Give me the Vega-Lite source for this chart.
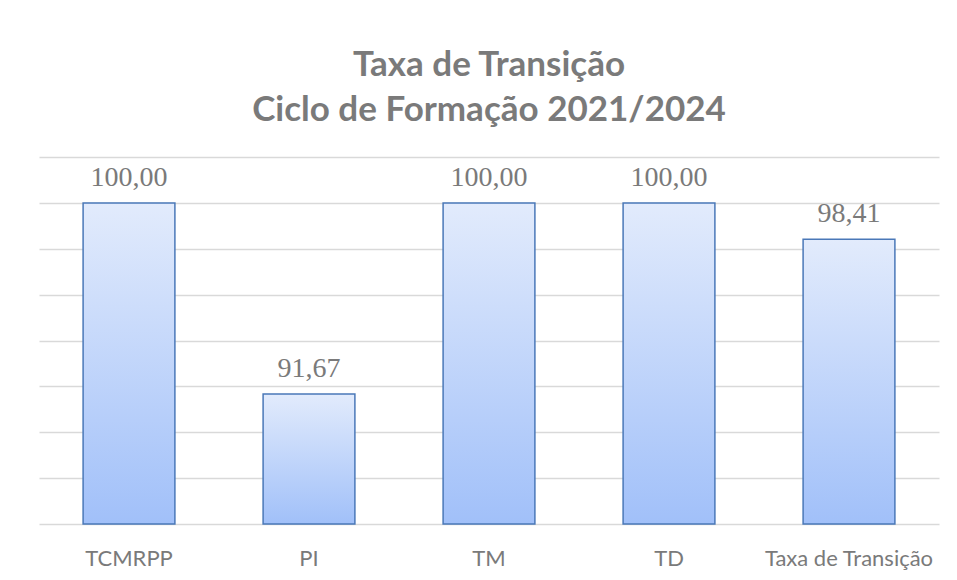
{
  "$schema": "https://vega.github.io/schema/vega-lite/v6.json",
  "width": 900,
  "height": 367,
  "autosize": {"type": "none"},
  "padding": {"left": 39, "top": 157, "right": 18, "bottom": 56},
  "background": "white",
  "config": {
    "view": {"stroke": null},
    "locale": {"number": {"decimal": ",", "thousands": ".", "grouping": [3], "currency": ["", ""]}}
  },
  "title": {
    "text": ["Taxa de Transição", "Ciclo de Formação 2021/2024"],
    "font": "Lato",
    "fontSize": 35,
    "fontWeight": "bold",
    "color": "#7a7a7a",
    "lineHeight": 45,
    "anchor": "middle",
    "offset": 29
  },
  "data": {
    "values": [
      {"categoria": "TCMRPP", "taxa": 100.00},
      {"categoria": "PI", "taxa": 91.67},
      {"categoria": "TM", "taxa": 100.00},
      {"categoria": "TD", "taxa": 100.00},
      {"categoria": "Taxa de Transição", "taxa": 98.41}
    ]
  },
  "encoding": {
    "x": {
      "field": "categoria",
      "type": "nominal",
      "sort": null,
      "scale": {"paddingInner": 0.49, "paddingOuter": 0.245},
      "axis": {
        "title": null,
        "labelAngle": 0,
        "labelFont": "Lato",
        "labelFontSize": 22,
        "labelColor": "#7a7a7a",
        "labelBaseline": "alphabetic",
        "labelPadding": 41,
        "ticks": false,
        "domain": false
      }
    },
    "y": {
      "field": "taxa",
      "type": "quantitative",
      "scale": {"domain": [86, 102], "nice": false, "zero": false},
      "axis": {
        "title": null,
        "labels": false,
        "ticks": false,
        "domain": false,
        "values": [86, 88, 90, 92, 94, 96, 98, 100, 102],
        "gridColor": "#d9d9d9",
        "gridWidth": 1.5
      }
    }
  },
  "layer": [
    {
      "mark": {
        "type": "bar",
        "stroke": "#4a78b8",
        "strokeWidth": 1.5,
        "color": {
          "gradient": "linear",
          "x1": 0, "y1": 0, "x2": 0, "y2": 1,
          "stops": [
            {"offset": 0, "color": "#e2ebfc"},
            {"offset": 1, "color": "#a1c0f9"}
          ]
        }
      },
      "encoding": {"y2": {"datum": 86}}
    },
    {
      "mark": {
        "type": "text",
        "baseline": "alphabetic",
        "dy": -17,
        "font": "Liberation Serif",
        "fontSize": 28,
        "color": "#7a7a7a"
      },
      "encoding": {
        "text": {"field": "taxa", "type": "quantitative", "format": ".2f"}
      }
    }
  ]
}
